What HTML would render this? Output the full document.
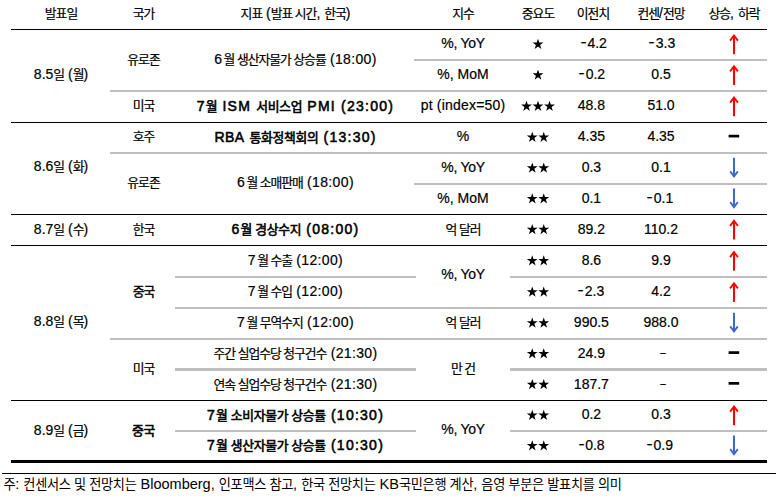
<!DOCTYPE html>
<html lang="ko"><head><meta charset="utf-8"><title>주간 경제지표 일정</title>
<style>
html,body{margin:0;padding:0;background:#fff}
body{width:778px;height:500px;position:relative;overflow:hidden;font-family:"Liberation Sans","Noto Sans CJK KR",sans-serif;color:#000;font-size:14.0px;line-height:1}
.ln{position:absolute}
.t{position:absolute;white-space:nowrap;transform:translateX(-50%);line-height:1}
.t{-webkit-text-stroke:.2px #000}
.b{-webkit-text-stroke:.55px #000;letter-spacing:1.25px}

.m{display:inline-block;margin-right:1.6px;position:relative;top:-1.1px;transform:scaleX(1.3)}
.m2{display:inline-block;position:relative;left:2px;top:-.8px;transform:scale(1.5,.8)}
.k{font-family:"Liberation Sans","Noto Sans CJK KR",sans-serif;font-size:12.8px;letter-spacing:-1px}
.b .k{letter-spacing:-.3px}
.fn .k{font-size:13.2px;letter-spacing:-.3px}
svg.i{position:absolute;overflow:visible}
.fn{position:absolute;white-space:nowrap;line-height:1}
</style></head><body>

<div class="ln" style="left:11px;top:29px;width:756px;height:1px;background:#000"></div>
<div class="ln" style="left:414px;top:59px;width:353px;height:2px;background:#bfbfbf"></div>
<div class="ln" style="left:110px;top:90px;width:657px;height:2px;background:#bfbfbf"></div>
<div class="ln" style="left:11px;top:122px;width:756px;height:1px;background:#000"></div>
<div class="ln" style="left:110px;top:152px;width:657px;height:2px;background:#bfbfbf"></div>
<div class="ln" style="left:414px;top:183px;width:353px;height:2px;background:#bfbfbf"></div>
<div class="ln" style="left:11px;top:214px;width:756px;height:1px;background:#000"></div>
<div class="ln" style="left:11px;top:245px;width:756px;height:1px;background:#000"></div>
<div class="ln" style="left:175px;top:276px;width:241px;height:2px;background:#bfbfbf"></div>
<div class="ln" style="left:510px;top:276px;width:257px;height:2px;background:#bfbfbf"></div>
<div class="ln" style="left:175px;top:307px;width:592px;height:2px;background:#bfbfbf"></div>
<div class="ln" style="left:110px;top:338px;width:657px;height:2px;background:#bfbfbf"></div>
<div class="ln" style="left:175px;top:368px;width:241px;height:3px;background:#bfbfbf"></div>
<div class="ln" style="left:510px;top:368px;width:257px;height:3px;background:#bfbfbf"></div>
<div class="ln" style="left:11px;top:400px;width:756px;height:1px;background:#000"></div>
<div class="ln" style="left:175px;top:430px;width:241px;height:2px;background:#bfbfbf"></div>
<div class="ln" style="left:510px;top:430px;width:257px;height:2px;background:#bfbfbf"></div>
<div class="ln" style="left:11px;top:460px;width:756px;height:3px;background:#000"></div>
<div class="ln" style="left:2px;top:473px;width:774px;height:1px;background:#000"></div>
<div class="t" style="left:61px;top:5.95px"><span class="k">발표일</span></div>
<div class="t" style="left:143.5px;top:5.95px"><span class="k">국가</span></div>
<div class="t" style="left:295.5px;top:5.95px"><span class="k">지표</span> (<span class="k">발표 시간</span>, <span class="k">한국</span>)</div>
<div class="t" style="left:463px;top:5.95px"><span class="k">지수</span></div>
<div class="t" style="left:538px;top:5.95px"><span class="k">중요도</span></div>
<div class="t" style="left:593px;top:5.95px"><span class="k">이전치</span></div>
<div class="t" style="left:661px;top:5.95px"><span class="k">컨센</span>/<span class="k">전망</span></div>
<div class="t" style="left:734px;top:5.95px"><span class="k">상승</span>, <span class="k">하락</span></div>
<div class="t" style="left:61px;top:66.95px">8.5<span class="k">일</span> (<span class="k">월</span>)</div>
<div class="t" style="left:61px;top:158.85px">8.6<span class="k">일</span> (<span class="k">화</span>)</div>
<div class="t" style="left:61px;top:221.55px">8.7<span class="k">일</span> (<span class="k">수</span>)</div>
<div class="t" style="left:61px;top:313.55px">8.8<span class="k">일</span> (<span class="k">목</span>)</div>
<div class="t" style="left:61px;top:422.55px">8.9<span class="k">일</span> (<span class="k">금</span>)</div>
<div class="t" style="left:143.5px;top:51.80px"><span class="k">유로존</span></div>
<div class="t" style="left:143.5px;top:98.30px"><span class="k">미국</span></div>
<div class="t" style="left:143.5px;top:129.30px"><span class="k">호주</span></div>
<div class="t" style="left:143.5px;top:175.30px"><span class="k">유로존</span></div>
<div class="t" style="left:143.5px;top:221.55px"><span class="k">한국</span></div>
<div class="t" style="left:143.5px;top:283.80px"><span class="k" style="-webkit-text-stroke:.4px #000">중국</span></div>
<div class="t" style="left:143.5px;top:361.30px"><span class="k">미국</span></div>
<div class="t b" style="left:143.5px;top:423.15px"><span class="k">중국</span></div>
<div class="t" style="left:295.5px;top:51.80px;letter-spacing:0.35px">6<span class="k" style="margin-left:1.2px">월 생산자물가 상승률</span> (18:00)</div>
<div class="t b" style="left:295.5px;top:98.90px">7<span class="k">월</span> ISM <span class="k">서비스업</span> PMI (23:00)</div>
<div class="t b" style="left:295.5px;top:129.90px"><span style="letter-spacing:.4px">RBA</span> <span class="k">통화정책회의</span> (13:30)</div>
<div class="t" style="left:295.5px;top:174.60px;letter-spacing:0.35px">6<span class="k" style="margin-left:1.2px">월 소매판매</span> (18:00)</div>
<div class="t b" style="left:295.5px;top:222.15px">6<span class="k">월 경상수지</span> (08:00)</div>
<div class="t" style="left:295.5px;top:252.80px;letter-spacing:0.35px">7<span class="k" style="margin-left:1.2px">월 수출</span> (12:00)</div>
<div class="t" style="left:295.5px;top:284.05px;letter-spacing:0.35px">7<span class="k" style="margin-left:1.2px">월 수입</span> (12:00)</div>
<div class="t" style="left:295.5px;top:315.05px;letter-spacing:0.35px">7<span class="k" style="margin-left:1.2px">월 무역수지</span> (12:00)</div>
<div class="t" style="left:295.5px;top:345.80px;letter-spacing:0.35px"><span class="k">주간 실업수당 청구건수</span> (21:30)</div>
<div class="t" style="left:295.5px;top:376.55px;letter-spacing:0.35px"><span class="k">연속 실업수당 청구건수</span> (21:30)</div>
<div class="t b" style="left:295.5px;top:407.90px">7<span class="k">월 소비자물가 상승률</span> (10:30)</div>
<div class="t b" style="left:295.5px;top:438.40px">7<span class="k">월 생산자물가 상승률</span> (10:30)</div>
<div class="t" style="left:463px;top:36.30px;letter-spacing:-0.3px">%, YoY</div>
<div class="t" style="left:463px;top:67.05px">%, MoM</div>
<div class="t" style="left:463px;top:98.30px;letter-spacing:0.2px">pt (index=50)</div>
<div class="t" style="left:463px;top:129.30px">%</div>
<div class="t" style="left:463px;top:160.05px;letter-spacing:-0.3px">%, YoY</div>
<div class="t" style="left:463px;top:190.80px">%, MoM</div>
<div class="t" style="left:463px;top:221.55px"><span class="k">억 달러</span></div>
<div class="t" style="left:463px;top:267.30px;letter-spacing:-0.3px">%, YoY</div>
<div class="t" style="left:463px;top:315.05px"><span class="k">억 달러</span></div>
<div class="t" style="left:463px;top:361.00px"><span class="k">만 건</span></div>
<div class="t" style="left:463px;top:421.55px;letter-spacing:-0.3px">%, YoY</div>
<div class="t" style="left:594.0px;top:36.30px"><span class="m">-</span>4.2</div>
<div class="t" style="left:662.4px;top:36.30px"><span class="m">-</span>3.3</div>
<div class="t" style="left:592.3px;top:67.05px"><span class="m">-</span>0.2</div>
<div class="t" style="left:661px;top:67.05px">0.5</div>
<div class="t" style="left:591.4px;top:98.30px">48.8</div>
<div class="t" style="left:661px;top:98.30px">51.0</div>
<div class="t" style="left:591.4px;top:129.30px">4.35</div>
<div class="t" style="left:661px;top:129.30px">4.35</div>
<div class="t" style="left:591.4px;top:160.05px">0.3</div>
<div class="t" style="left:661px;top:160.05px">0.1</div>
<div class="t" style="left:591.4px;top:190.80px">0.1</div>
<div class="t" style="left:660.4px;top:190.80px"><span class="m">-</span>0.1</div>
<div class="t" style="left:591.4px;top:221.55px">89.2</div>
<div class="t" style="left:661px;top:221.55px">110.2</div>
<div class="t" style="left:591.4px;top:252.80px">8.6</div>
<div class="t" style="left:661px;top:252.80px">9.9</div>
<div class="t" style="left:591.4px;top:284.05px"><span class="m">-</span>2.3</div>
<div class="t" style="left:661px;top:284.05px">4.2</div>
<div class="t" style="left:591.4px;top:315.05px">990.5</div>
<div class="t" style="left:661px;top:315.05px">988.0</div>
<div class="t" style="left:591.4px;top:345.80px">24.9</div>
<div class="t" style="left:661px;top:345.80px"><span class="m2">-</span></div>
<div class="t" style="left:591.4px;top:376.55px">187.7</div>
<div class="t" style="left:661px;top:376.55px"><span class="m2">-</span></div>
<div class="t" style="left:591.4px;top:407.30px">0.2</div>
<div class="t" style="left:661px;top:407.30px">0.3</div>
<div class="t" style="left:591.8px;top:437.80px"><span class="m">-</span>0.8</div>
<div class="t" style="left:660.2px;top:437.80px"><span class="m">-</span>0.9</div>
<svg class="i" role="img" aria-label="중요도 및 상승 하락 표시" style="left:0;top:0" width="778" height="500" viewBox="0 0 778 500"><path d="M538.00,38.65 L539.28,42.59 L543.42,42.59 L540.07,45.02 L541.35,48.96 L538.00,46.53 L534.65,48.96 L535.93,45.02 L532.58,42.59 L536.72,42.59Z" fill="#000"/><path d="M734 35.55V54.20" stroke="#ff0000" stroke-width="2.1" fill="none"/><path d="M730.1 40.65L734 35.45L737.9 40.65" stroke="#ff0000" stroke-width="1.8" fill="none"/><path d="M538.00,69.40 L539.28,73.34 L543.42,73.34 L540.07,75.77 L541.35,79.71 L538.00,77.28 L534.65,79.71 L535.93,75.77 L532.58,73.34 L536.72,73.34Z" fill="#000"/><path d="M734 66.30V84.95" stroke="#ff0000" stroke-width="2.1" fill="none"/><path d="M730.1 71.40L734 66.20L737.9 71.40" stroke="#ff0000" stroke-width="1.8" fill="none"/><path d="M526.50,100.65 L527.78,104.59 L531.92,104.59 L528.57,107.02 L529.85,110.96 L526.50,108.53 L523.15,110.96 L524.43,107.02 L521.08,104.59 L525.22,104.59Z" fill="#000"/><path d="M538.00,100.65 L539.28,104.59 L543.42,104.59 L540.07,107.02 L541.35,110.96 L538.00,108.53 L534.65,110.96 L535.93,107.02 L532.58,104.59 L536.72,104.59Z" fill="#000"/><path d="M549.50,100.65 L550.78,104.59 L554.92,104.59 L551.57,107.02 L552.85,110.96 L549.50,108.53 L546.15,110.96 L547.43,107.02 L544.08,104.59 L548.22,104.59Z" fill="#000"/><path d="M734 97.55V116.20" stroke="#ff0000" stroke-width="2.1" fill="none"/><path d="M730.1 102.65L734 97.45L737.9 102.65" stroke="#ff0000" stroke-width="1.8" fill="none"/><path d="M532.25,131.65 L533.53,135.59 L537.67,135.59 L534.32,138.02 L535.60,141.96 L532.25,139.53 L528.90,141.96 L530.18,138.02 L526.83,135.59 L530.97,135.59Z" fill="#000"/><path d="M543.75,131.65 L545.03,135.59 L549.17,135.59 L545.82,138.02 L547.10,141.96 L543.75,139.53 L540.40,141.96 L541.68,138.02 L538.33,135.59 L542.47,135.59Z" fill="#000"/><rect x="728.6" y="134.75" width="10.6" height="2.7" fill="#000"/><path d="M532.25,162.40 L533.53,166.34 L537.67,166.34 L534.32,168.77 L535.60,172.71 L532.25,170.28 L528.90,172.71 L530.18,168.77 L526.83,166.34 L530.97,166.34Z" fill="#000"/><path d="M543.75,162.40 L545.03,166.34 L549.17,166.34 L545.82,168.77 L547.10,172.71 L543.75,170.28 L540.40,172.71 L541.68,168.77 L538.33,166.34 L542.47,166.34Z" fill="#000"/><path d="M734 157.70V176.80" stroke="#4068cc" stroke-width="2.0" fill="none"/><path d="M730.2 171.40L734 176.40L737.8 171.40" stroke="#4068cc" stroke-width="1.8" fill="none"/><path d="M532.25,193.15 L533.53,197.09 L537.67,197.09 L534.32,199.52 L535.60,203.46 L532.25,201.03 L528.90,203.46 L530.18,199.52 L526.83,197.09 L530.97,197.09Z" fill="#000"/><path d="M543.75,193.15 L545.03,197.09 L549.17,197.09 L545.82,199.52 L547.10,203.46 L543.75,201.03 L540.40,203.46 L541.68,199.52 L538.33,197.09 L542.47,197.09Z" fill="#000"/><path d="M734 188.45V207.55" stroke="#4068cc" stroke-width="2.0" fill="none"/><path d="M730.2 202.15L734 207.15L737.8 202.15" stroke="#4068cc" stroke-width="1.8" fill="none"/><path d="M532.25,223.90 L533.53,227.84 L537.67,227.84 L534.32,230.27 L535.60,234.21 L532.25,231.78 L528.90,234.21 L530.18,230.27 L526.83,227.84 L530.97,227.84Z" fill="#000"/><path d="M543.75,223.90 L545.03,227.84 L549.17,227.84 L545.82,230.27 L547.10,234.21 L543.75,231.78 L540.40,234.21 L541.68,230.27 L538.33,227.84 L542.47,227.84Z" fill="#000"/><path d="M734 220.80V239.45" stroke="#ff0000" stroke-width="2.1" fill="none"/><path d="M730.1 225.90L734 220.70L737.9 225.90" stroke="#ff0000" stroke-width="1.8" fill="none"/><path d="M532.25,255.15 L533.53,259.09 L537.67,259.09 L534.32,261.52 L535.60,265.46 L532.25,263.03 L528.90,265.46 L530.18,261.52 L526.83,259.09 L530.97,259.09Z" fill="#000"/><path d="M543.75,255.15 L545.03,259.09 L549.17,259.09 L545.82,261.52 L547.10,265.46 L543.75,263.03 L540.40,265.46 L541.68,261.52 L538.33,259.09 L542.47,259.09Z" fill="#000"/><path d="M734 252.05V270.70" stroke="#ff0000" stroke-width="2.1" fill="none"/><path d="M730.1 257.15L734 251.95L737.9 257.15" stroke="#ff0000" stroke-width="1.8" fill="none"/><path d="M532.25,286.40 L533.53,290.34 L537.67,290.34 L534.32,292.77 L535.60,296.71 L532.25,294.28 L528.90,296.71 L530.18,292.77 L526.83,290.34 L530.97,290.34Z" fill="#000"/><path d="M543.75,286.40 L545.03,290.34 L549.17,290.34 L545.82,292.77 L547.10,296.71 L543.75,294.28 L540.40,296.71 L541.68,292.77 L538.33,290.34 L542.47,290.34Z" fill="#000"/><path d="M734 283.30V301.95" stroke="#ff0000" stroke-width="2.1" fill="none"/><path d="M730.1 288.40L734 283.20L737.9 288.40" stroke="#ff0000" stroke-width="1.8" fill="none"/><path d="M532.25,317.40 L533.53,321.34 L537.67,321.34 L534.32,323.77 L535.60,327.71 L532.25,325.28 L528.90,327.71 L530.18,323.77 L526.83,321.34 L530.97,321.34Z" fill="#000"/><path d="M543.75,317.40 L545.03,321.34 L549.17,321.34 L545.82,323.77 L547.10,327.71 L543.75,325.28 L540.40,327.71 L541.68,323.77 L538.33,321.34 L542.47,321.34Z" fill="#000"/><path d="M734 312.70V331.80" stroke="#4068cc" stroke-width="2.0" fill="none"/><path d="M730.2 326.40L734 331.40L737.8 326.40" stroke="#4068cc" stroke-width="1.8" fill="none"/><path d="M532.25,348.15 L533.53,352.09 L537.67,352.09 L534.32,354.52 L535.60,358.46 L532.25,356.03 L528.90,358.46 L530.18,354.52 L526.83,352.09 L530.97,352.09Z" fill="#000"/><path d="M543.75,348.15 L545.03,352.09 L549.17,352.09 L545.82,354.52 L547.10,358.46 L543.75,356.03 L540.40,358.46 L541.68,354.52 L538.33,352.09 L542.47,352.09Z" fill="#000"/><rect x="728.6" y="351.25" width="10.6" height="2.7" fill="#000"/><path d="M532.25,378.90 L533.53,382.84 L537.67,382.84 L534.32,385.27 L535.60,389.21 L532.25,386.78 L528.90,389.21 L530.18,385.27 L526.83,382.84 L530.97,382.84Z" fill="#000"/><path d="M543.75,378.90 L545.03,382.84 L549.17,382.84 L545.82,385.27 L547.10,389.21 L543.75,386.78 L540.40,389.21 L541.68,385.27 L538.33,382.84 L542.47,382.84Z" fill="#000"/><rect x="728.6" y="382.00" width="10.6" height="2.7" fill="#000"/><path d="M532.25,409.65 L533.53,413.59 L537.67,413.59 L534.32,416.02 L535.60,419.96 L532.25,417.53 L528.90,419.96 L530.18,416.02 L526.83,413.59 L530.97,413.59Z" fill="#000"/><path d="M543.75,409.65 L545.03,413.59 L549.17,413.59 L545.82,416.02 L547.10,419.96 L543.75,417.53 L540.40,419.96 L541.68,416.02 L538.33,413.59 L542.47,413.59Z" fill="#000"/><path d="M734 406.55V425.20" stroke="#ff0000" stroke-width="2.1" fill="none"/><path d="M730.1 411.65L734 406.45L737.9 411.65" stroke="#ff0000" stroke-width="1.8" fill="none"/><path d="M532.25,440.15 L533.53,444.09 L537.67,444.09 L534.32,446.52 L535.60,450.46 L532.25,448.03 L528.90,450.46 L530.18,446.52 L526.83,444.09 L530.97,444.09Z" fill="#000"/><path d="M543.75,440.15 L545.03,444.09 L549.17,444.09 L545.82,446.52 L547.10,450.46 L543.75,448.03 L540.40,450.46 L541.68,446.52 L538.33,444.09 L542.47,444.09Z" fill="#000"/><path d="M734 435.45V454.55" stroke="#4068cc" stroke-width="2.0" fill="none"/><path d="M730.2 449.15L734 454.15L737.8 449.15" stroke="#4068cc" stroke-width="1.8" fill="none"/></svg>
<div class="fn" style="left:3.4px;top:477.03px;font-size:14.5px"><span class="k">주</span>: <span class="k">컨센서스 및 전망치는</span> Bloomberg, <span class="k">인포맥스 참고</span>, <span class="k">한국 전망치는</span> KB<span class="k">국민은행 계산</span>, <span class="k">음영 부분은 발표치를 의미</span></div>
</body></html>
